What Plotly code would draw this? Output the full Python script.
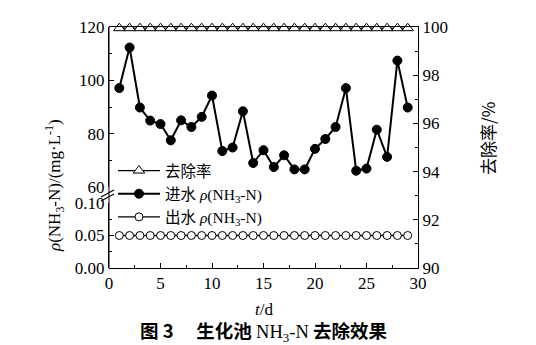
import plotly.graph_objects as go

days = list(range(1, 30))
influent = [97.1, 112.3, 89.8, 84.9, 83.6, 77.5, 85.0, 82.5, 86.3, 94.3,
            73.5, 74.8, 88.4, 69.0, 73.8, 67.5, 71.9, 66.6, 66.6, 74.3,
            78.0, 82.5, 97.1, 66.1, 66.9, 81.5, 71.3, 107.4, 89.8]
effluent = [0.05] * 29
removal = [99.95] * 29

upper_ticks = [60, 80, 100, 120]
lower_ticks = [0.00, 0.05, 0.10]
right_ticks = [90, 92, 94, 96, 98, 100]
x_ticks = [0, 5, 10, 15, 20, 25, 30]

SERIF = "Liberation Serif, Times New Roman, Noto Sans CJK SC, serif"
CJK = "Noto Sans CJK SC, sans-serif"

W, H = 536, 345
ML, MR, MT, MB = 109, 118, 27, 77
PW = W - ML - MR
PH = H - MT - MB

def py(y_px):
    return (H - MB - y_px) / PH

def px(x_px):
    return (x_px - ML) / PW

fig = go.Figure()

fig.add_trace(go.Scatter(
    x=days, y=removal, xaxis="x", yaxis="y3", name="去除率",
    mode="lines+markers", cliponaxis=False,
    line=dict(color="black", width=1.3),
    marker=dict(symbol="triangle-up", size=10, color="white",
                line=dict(color="black", width=1))))
fig.add_trace(go.Scatter(
    x=days, y=influent, xaxis="x", yaxis="y", name="进水 <i>ρ</i>(NH<sub>3</sub>-N)",
    mode="lines+markers", cliponaxis=False,
    line=dict(color="black", width=2),
    marker=dict(symbol="circle", size=9, color="black",
                line=dict(color="black", width=1))))
fig.add_trace(go.Scatter(
    x=days, y=effluent, xaxis="x", yaxis="y2", name="出水 <i>ρ</i>(NH<sub>3</sub>-N)",
    mode="lines+markers", cliponaxis=False,
    line=dict(color="black", width=1.3),
    marker=dict(symbol="circle", size=8, color="white",
                line=dict(color="black", width=1))))

axis_common = dict(showline=True, linecolor="black", linewidth=1,
                   ticks="inside", ticklen=5, tickcolor="black", showgrid=False,
                   zeroline=False, tickfont=dict(family=SERIF, size=17, color="black"))

up_bottom = py(187)
low_top = py(203)

fig.update_layout(
    width=W, height=H,
    margin=dict(l=ML, r=MR, t=MT, b=MB),
    paper_bgcolor="white", plot_bgcolor="rgba(0,0,0,0)",
    showlegend=True,
    legend=dict(x=px(113), y=py(154), xanchor="left", yanchor="top",
                bgcolor="rgba(0,0,0,0)", itemwidth=42,
                font=dict(family=SERIF, size=15.5, color="black"),
                tracegroupgap=0),
    xaxis=dict(range=[0, 30], tickvals=x_ticks, anchor="y3", mirror=True,
               minor=dict(dtick=2.5, ticks="inside", ticklen=3, tickcolor="black"),
               **axis_common),
    yaxis=dict(domain=[up_bottom, 1], range=[60, 120], tickvals=upper_ticks,
               anchor="x", side="left",
               minor=dict(tickvals=[70, 90, 110], ticks="inside", ticklen=3, tickcolor="black"),
               **axis_common),
    yaxis2=dict(domain=[0, low_top], range=[0, 0.10], tickvals=lower_ticks,
                tickformat=".2f", anchor="x", side="left",
                minor=dict(tickvals=[0.025, 0.075], ticks="inside", ticklen=3, tickcolor="black"),
                **axis_common),
    yaxis3=dict(domain=[0, 1], range=[90, 100], tickvals=right_ticks,
                anchor="x", side="right",
                minor=dict(dtick=1, ticks="inside", ticklen=3, tickcolor="black"),
                **axis_common),
)

shapes = [
    dict(type="line", xref="paper", yref="paper", x0=0, x1=0, y0=0, y1=1,
         line=dict(color="black", width=1)),
    dict(type="line", xref="paper", yref="paper", x0=px(101), x1=px(114),
         y0=py(197), y1=py(190), line=dict(color="black", width=1.2)),
    dict(type="line", xref="paper", yref="paper", x0=px(101), x1=px(114),
         y0=py(201), y1=py(194), line=dict(color="black", width=1.2)),
]
fig.update_layout(shapes=shapes)

annotations = [
    dict(text="<i>t</i>/d", xref="paper", yref="paper", x=0.5, y=py(309),
         xanchor="center", yanchor="middle", showarrow=False,
         font=dict(family=SERIF, size=17, color="black")),
    dict(text="<i>ρ</i>(NH<sub>3</sub>-N)/(mg·L<sup>-1</sup>)", xref="paper", yref="paper",
         x=px(54), y=py(186), xanchor="center", yanchor="middle", textangle=-90,
         showarrow=False, font=dict(family=SERIF, size=17, color="black")),
    dict(text="去除率/%", xref="paper", yref="paper",
         x=px(487), y=py(138), xanchor="center", yanchor="middle", textangle=-90,
         showarrow=False, font=dict(family=CJK, size=17, color="black")),
    dict(text="<b>图 3　 生化池 </b><span style='font-family:Liberation Serif'>NH<sub>3</sub>-N</span><b> 去除效果</b>",
         xref="paper", yref="paper", x=0.5, y=py(331), xanchor="center", yanchor="middle",
         showarrow=False, font=dict(family=CJK, size=18.5, color="black")),
]
fig.update_layout(annotations=annotations)

fig.write_html("out.html")
